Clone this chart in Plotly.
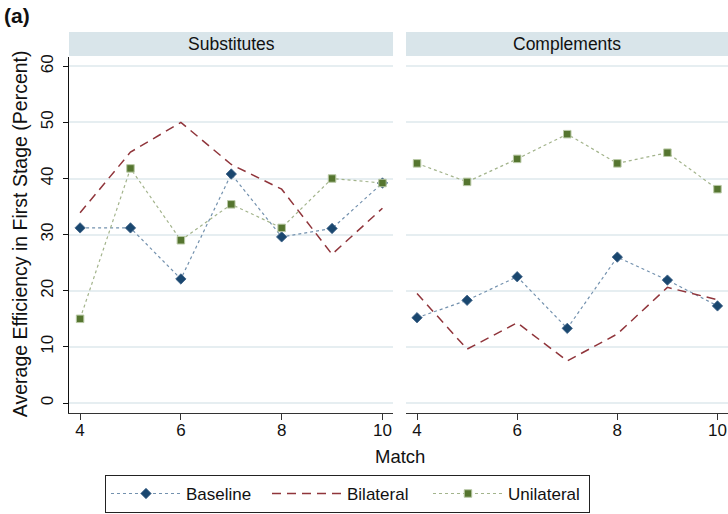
import plotly.graph_objects as go

# Efficiency in the first stage, by match, for each treatment and market type
matches = [4, 5, 6, 7, 8, 9, 10]

subs_baseline = [31.2, 31.2, 22.1, 40.8, 29.6, 31.1, 39.2]
subs_bilateral = [33.9, 44.7, 50.0, 42.5, 38.1, 26.5, 34.7]
subs_unilateral = [15.0, 41.8, 29.0, 35.4, 31.2, 40.0, 39.2]

comp_baseline = [15.2, 18.3, 22.5, 13.3, 26.0, 21.9, 17.3]
comp_bilateral = [19.5, 9.6, 14.3, 7.5, 12.3, 20.6, 18.4]
comp_unilateral = [42.7, 39.4, 43.5, 47.9, 42.7, 44.6, 38.1]

panel_titles = ["Substitutes", "Complements"]
y_ticks = [0, 10, 20, 30, 40, 50, 60]
x_ticks = [4, 6, 8, 10]

NAVY = "#1a476f"
MAROON = "#90353b"
GREEN = "#55752f"
FONT = "Liberation Sans, Arial, sans-serif"

fig = go.Figure()

panels = [
    ("x", "y", subs_baseline, subs_bilateral, subs_unilateral, True),
    ("x2", "y2", comp_baseline, comp_bilateral, comp_unilateral, False),
]

for xa, ya, base, bil, uni, show in panels:
    fig.add_trace(go.Scatter(
        x=matches, y=base, xaxis=xa, yaxis=ya, name="Baseline",
        mode="lines+markers", showlegend=show, legendrank=1,
        line=dict(color="#7391ae", width=1.2, dash="dot"),
        marker=dict(symbol="diamond", size=8, color=NAVY,
                    line=dict(color="#3c6186", width=0.8)),
    ))
    fig.add_trace(go.Scatter(
        x=matches, y=bil, xaxis=xa, yaxis=ya, name="Bilateral",
        mode="lines", showlegend=show, legendrank=2,
        line=dict(color=MAROON, width=1.5, dash="9px,6px"),
    ))
    fig.add_trace(go.Scatter(
        x=matches, y=uni, xaxis=xa, yaxis=ya, name="Unilateral",
        mode="lines+markers", showlegend=show, legendrank=3,
        line=dict(color="#a3b48c", width=1.2, dash="dot"),
        marker=dict(symbol="square", size=7.5, color=GREEN,
                    line=dict(color="#b9c9a6", width=1)),
    ))

x_common = dict(
    range=[3.78, 10.21], tickvals=x_ticks, ticks="outside", ticklen=6,
    tickcolor="#333", showline=True, linecolor="#333", linewidth=1,
    showgrid=False, zeroline=False, tickfont=dict(size=17, color="#111"),
    ticklabelstandoff=-4,
)
y_common = dict(
    range=[-1.78, 61.65], tickvals=y_ticks, showgrid=True,
    gridcolor="#e6eef1", gridwidth=1.5, zeroline=False,
)

fig.update_layout(
    width=728, height=514,
    margin=dict(l=69, r=0, t=57, b=101),
    paper_bgcolor="white", plot_bgcolor="white",
    font=dict(family=FONT, color="#111"),
    xaxis=dict(domain=[0, 0.4917], anchor="y", **x_common),
    xaxis2=dict(domain=[0.5114, 1.0], anchor="y2", **x_common),
    yaxis=dict(anchor="x", ticks="outside", ticklen=5, tickcolor="#111",
               showline=True, linecolor="#111", linewidth=1,
               tickangle=-90, tickfont=dict(size=17, color="#111"),
               ticklabelstandoff=3, **y_common),
    yaxis2=dict(anchor="x2", showticklabels=False, showline=False,
                ticks="", **y_common),
    legend=dict(
        orientation="h", x=0.4226, xanchor="center", y=-0.174, yanchor="top",
        bordercolor="#222", borderwidth=1, bgcolor="white",
        font=dict(size=17, color="#111"), itemwidth=70,
        entrywidth=76, traceorder="normal",
    ),
)

# Panel header strips
for xa, title in zip(["x", "x2"], panel_titles):
    fig.add_shape(type="rect", xref=f"{xa} domain", yref="paper",
                  x0=0, x1=1, y0=1.0028, y1=1.07,
                  fillcolor="#d9e5ea", line=dict(width=0), layer="below")
    fig.add_annotation(text=title, xref=f"{xa} domain", yref="paper",
                       x=0.5, y=1.036, showarrow=False,
                       font=dict(size=17.5, color="#111"),
                       xanchor="center", yanchor="middle")

fig.add_annotation(text="Match", xref="paper", yref="paper",
                   x=0.502, y=-0.122, showarrow=False,
                   font=dict(size=18.5, color="#111"),
                   xanchor="center", yanchor="middle")
fig.add_annotation(text="Average Efficiency in First Stage (Percent)",
                   xref="paper", yref="paper", x=-0.0744, y=0.505,
                   textangle=-90, showarrow=False,
                   font=dict(size=19.5, color="#111"),
                   xanchor="center", yanchor="middle")
fig.add_annotation(text="<b>(a)</b>", xref="paper", yref="paper",
                   x=-0.1017, y=1.117, showarrow=False,
                   font=dict(size=21, color="#111"),
                   xanchor="left", yanchor="middle")

fig.write_html("out.html")
